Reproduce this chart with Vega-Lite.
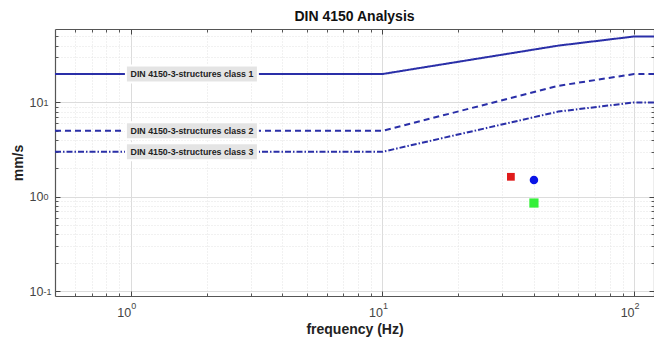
{
  "$schema": "https://vega.github.io/schema/vega-lite/v6.json",
  "width": 599,
  "height": 267,
  "autosize": {"type": "none"},
  "padding": {"left": 55, "top": 29, "right": 0, "bottom": 44},
  "background": "white",
  "title": {"text": "DIN 4150 Analysis", "font": "Liberation Sans", "fontSize": 14, "fontWeight": "bold", "color": "#111111", "offset": 5, "anchor": "middle"},
  "config": {"view": {"stroke": null}, "axis": {"labelFont": "Liberation Sans", "titleFont": "Liberation Sans"}},
  "datasets": {
    "limits": [
      {"freq": 0.5, "v": 20, "cls": "class 1"},
      {"freq": 10, "v": 20, "cls": "class 1"},
      {"freq": 50, "v": 40, "cls": "class 1"},
      {"freq": 100, "v": 50, "cls": "class 1"},
      {"freq": 120, "v": 50, "cls": "class 1"},
      {"freq": 0.5, "v": 5, "cls": "class 2"},
      {"freq": 10, "v": 5, "cls": "class 2"},
      {"freq": 50, "v": 15, "cls": "class 2"},
      {"freq": 100, "v": 20, "cls": "class 2"},
      {"freq": 120, "v": 20, "cls": "class 2"},
      {"freq": 0.5, "v": 3, "cls": "class 3"},
      {"freq": 10, "v": 3, "cls": "class 3"},
      {"freq": 50, "v": 8, "cls": "class 3"},
      {"freq": 100, "v": 10, "cls": "class 3"},
      {"freq": 120, "v": 10, "cls": "class 3"}
    ],
    "labels": [
      {"freq": 1.75, "v": 20, "label": "DIN 4150-3-structures class 1"},
      {"freq": 1.75, "v": 5, "label": "DIN 4150-3-structures class 2"},
      {"freq": 1.75, "v": 3, "label": "DIN 4150-3-structures class 3"}
    ],
    "measurements": [
      {"freq": 32.4, "v": 1.63, "sensor": "A"},
      {"freq": 40, "v": 1.51, "sensor": "B"},
      {"freq": 40, "v": 0.86, "sensor": "C"}
    ]
  },
  "resolve": {"axis": {"x": "independent", "y": "independent"}},
  "layer": [
    {
      "data": {"name": "limits"},
      "mark": {"type": "line", "strokeWidth": 2, "color": "#2a2fa8", "clip": true},
      "encoding": {
        "x": {"field": "freq", "type": "quantitative",
          "scale": {"type": "log", "domain": [0.5, 120], "nice": false},
          "axis": {"orient": "bottom", "values": [1, 10, 100], "title": "frequency (Hz)", "titleFontSize": 14, "titleFontWeight": "bold", "titleColor": "#222222", "titleY": 33, "titleBaseline": "middle",
            "labelExpr": "'10'", "labelFontSize": 12.5, "labelColor": "#444444", "labelPadding": 21, "labelBaseline": "middle", "labelAlign": "right", "labelDx": 2,
            "grid": true, "gridColor": "#dcdcdc", "gridWidth": 1, "tickSize": -5, "tickColor": "#444444", "domainColor": "#555555", "domainWidth": 1.2}},
        "y": {"field": "v", "type": "quantitative",
          "scale": {"type": "log", "domain": [0.089, 60], "nice": false, "zero": false},
          "axis": {"orient": "left", "values": [0.1, 1, 10], "title": "mm/s", "titleFontSize": 14, "titleFontWeight": "bold", "titleColor": "#222222", "titleX": -37, "titleBaseline": "middle",
            "labelExpr": "'10'", "labelFontSize": 12.5, "labelColor": "#444444", "labelPadding": 17, "labelBaseline": "middle", "labelDy": 4.5,
            "grid": true, "gridColor": "#dcdcdc", "gridWidth": 1, "tickSize": -5, "tickColor": "#444444", "domainColor": "#555555", "domainWidth": 1.2}},
        "strokeDash": {"field": "cls", "type": "nominal", "scale": {"domain": ["class 1", "class 2", "class 3"], "range": [[1, 0], [6, 4], [6, 2, 1.5, 2]]}, "legend": null}
      }
    },
    {
      "data": {"name": "measurements"},
      "mark": {"type": "point", "filled": true, "opacity": 1},
      "encoding": {
        "x": {"field": "freq", "type": "quantitative",
          "axis": {"orient": "bottom", "values": [0.6, 0.7, 0.8, 0.9, 2, 3, 4, 5, 6, 7, 8, 9, 20, 30, 40, 50, 60, 70, 80, 90], "labels": false, "title": null, "domain": false,
            "grid": true, "gridColor": "#e2e2e2", "gridDash": [1, 2], "tickSize": -3, "tickColor": "#555555"}},
        "y": {"field": "v", "type": "quantitative",
          "axis": {"orient": "left", "values": [0.2, 0.3, 0.4, 0.5, 0.6, 0.7, 0.8, 0.9, 2, 3, 4, 5, 6, 7, 8, 9, 20, 30, 40, 50], "labels": false, "title": null, "domain": false,
            "grid": true, "gridColor": "#e2e2e2", "gridDash": [1, 2], "tickSize": -3, "tickColor": "#555555"}},
        "color": {"field": "sensor", "type": "nominal", "scale": {"domain": ["A", "B", "C"], "range": ["#e01b1b", "#0a14e6", "#35f03a"]}, "legend": null},
        "shape": {"field": "sensor", "type": "nominal", "scale": {"domain": ["A", "B", "C"], "range": ["square", "circle", "square"]}, "legend": null},
        "size": {"field": "sensor", "type": "nominal", "scale": {"domain": ["A", "B", "C"], "range": [60, 85, 60]}, "legend": null}
      }
    },
    {
      "data": {"name": "labels"},
      "mark": {"type": "rect", "width": 132, "height": 17, "color": "#e4e4e4", "stroke": "white", "strokeWidth": 2},
      "encoding": {
        "x": {"field": "freq", "type": "quantitative",
          "axis": {"orient": "top", "values": [1, 10, 100], "labels": false, "title": null, "grid": false, "tickSize": -5, "tickColor": "#444444", "domainColor": "#555555", "domainWidth": 1.2}},
        "y": {"field": "v", "type": "quantitative",
          "axis": {"orient": "right", "values": [0.1, 1, 10], "labels": false, "title": null, "grid": false, "tickSize": -5, "tickColor": "#444444", "domainColor": "#555555", "domainWidth": 1.2}}
      }
    },
    {
      "data": {"name": "labels"},
      "mark": {"type": "text", "font": "Liberation Sans", "fontSize": 8.8, "fontWeight": "bold", "color": "#222222", "align": "center", "baseline": "middle"},
      "encoding": {
        "x": {"field": "freq", "type": "quantitative",
          "axis": {"orient": "top", "values": [0.6, 0.7, 0.8, 0.9, 2, 3, 4, 5, 6, 7, 8, 9, 20, 30, 40, 50, 60, 70, 80, 90], "labels": false, "title": null, "domain": false, "grid": false, "tickSize": -3, "tickColor": "#555555"}},
        "y": {"field": "v", "type": "quantitative",
          "axis": {"orient": "right", "values": [0.2, 0.3, 0.4, 0.5, 0.6, 0.7, 0.8, 0.9, 2, 3, 4, 5, 6, 7, 8, 9, 20, 30, 40, 50], "labels": false, "title": null, "domain": false, "grid": false, "tickSize": -3, "tickColor": "#555555"}},
        "text": {"field": "label", "type": "nominal"}
      }
    },
    {
      "data": {"name": "measurements"},
      "mark": {"type": "point", "opacity": 0},
      "encoding": {
        "x": {"field": "freq", "type": "quantitative",
          "axis": {"orient": "bottom", "values": [1, 10, 100], "title": null, "domain": false, "grid": false, "ticks": false,
            "labelExpr": "datum.value == 1 ? '0' : datum.value == 10 ? '1' : '2'", "labelFontSize": 9, "labelColor": "#444444", "labelPadding": 9, "labelBaseline": "middle", "labelAlign": "left", "labelDx": 3}},
        "y": {"field": "v", "type": "quantitative",
          "axis": {"orient": "left", "values": [0.1, 1, 10], "title": null, "domain": false, "grid": false, "ticks": false,
            "labelExpr": "datum.value == 0.1 ? '-1' : datum.value == 1 ? '0' : '1'", "labelFontSize": 9, "labelColor": "#444444", "labelPadding": 12, "labelBaseline": "middle", "labelAlign": "left", "labelDy": 0.5}}
      }
    }
  ]
}
